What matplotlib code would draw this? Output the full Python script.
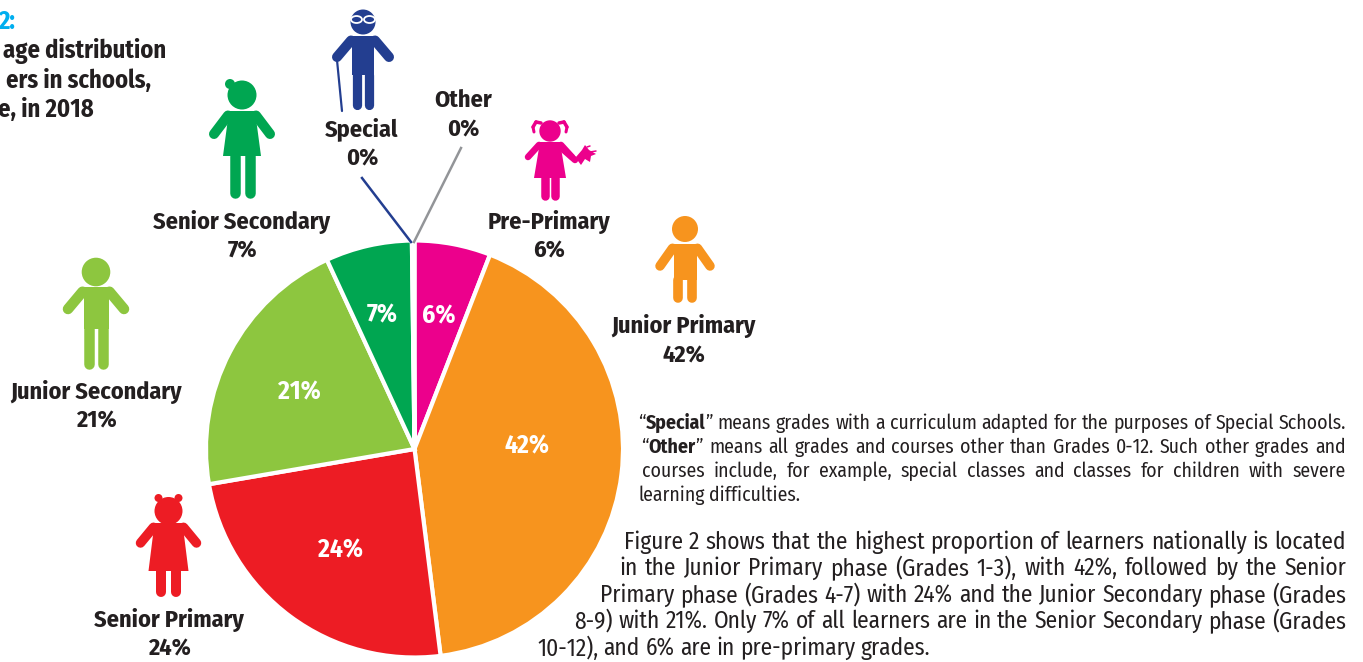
import logging
import matplotlib
matplotlib.use("Agg")
import matplotlib.pyplot as plt
from matplotlib.patches import Circle, Ellipse, Polygon

logging.getLogger("matplotlib.font_manager").setLevel(logging.ERROR)

# Wedge sizes (printed labels are rounded)
categories = ["Pre-Primary", "Junior Primary", "Senior Primary", "Junior Secondary", "Senior Secondary", "Special", "Other"]
shares = [5.9, 42.1, 24.3, 20.8, 6.7, 0.1, 0.1]
printed = ["6%", "42%", "24%", "21%", "7%", "0%", "0%"]
colors = ["#EC008C", "#F7941E", "#ED1C24", "#8DC63F", "#00A651", "#233E90", "#939598"]

label_xy = [(549, 219), (684, 324), (169, 617), (96, 389), (242, 219), (362, 127), (463, 98)]
inner_xy = [(439, 314), (527, 444), (341, 548), (299, 390), (382, 313)]

title_lines = ["2:", "age distribution", "ers in schools,", "e, in 2018"]
title_right = [15, 166, 151, 94]
title_y = [19, 48, 78, 107]

note_lines = [
    "“*Special*” means grades with a curriculum adapted for the purposes of Special Schools.",
    "“*Other*” means all grades and courses other than Grades 0-12. Such other grades and",
    "courses include, for example, special classes and classes for children with severe",
    "learning difficulties.",
]
note_left = [638, 641, 642, 638]
note_y = [421, 445, 469, 493]

body_lines = [
    "Figure 2 shows that the highest proportion of learners nationally is located",
    "in the Junior Primary phase (Grades 1-3), with 42%, followed by the Senior",
    "Primary phase (Grades 4-7) with 24% and the Junior Secondary phase (Grades",
    "8-9) with 21%. Only 7% of all learners are in the Senior Secondary phase (Grades",
    "10-12), and 6% are in pre-primary grades.",
]
body_left = [624, 619, 600, 574, 537]
body_y = [540, 566, 593, 619, 646]

W, H = 1363, 662
DARK = "#231F20"
plt.rcParams["font.family"] = ["Fira Sans Condensed", "Liberation Sans"]

fig = plt.figure(figsize=(W / 100, H / 100), dpi=100)
ax = fig.add_axes([0, 0, 1, 1])
renderer = fig.canvas.get_renderer()


def Y(y):
    return H - y


def text_width(s, weight, size):
    t = ax.text(0, 0, s, fontsize=size, fontweight=weight)
    w = t.get_window_extent(renderer).width
    t.remove()
    return w


def fit_size(s, weight, target):
    # pick the size that makes s as wide as it is in the picture
    return 20 * target / text_width(s, weight, 20)


def limb(x0, y0, x1, y1, width, color):
    ax.plot([x0, x1], [Y(y0), Y(y1)], color=color, lw=width * 0.72, solid_capstyle="round", zorder=3)


def head(x, y, r, color):
    ax.add_patch(Circle((x, Y(y)), r, color=color, lw=0, zorder=3))


def poly(points, color):
    ax.add_patch(Polygon([(x, Y(y)) for x, y in points], closed=True, color=color, lw=0, zorder=3))


def boy(cx, head_y, r, sh_y, half, hand_dx, hand_y, crotch, foot, arm, color):
    head(cx, head_y, r, color)
    poly([(cx - half, sh_y), (cx + half, sh_y), (cx + half, crotch), (cx - half, crotch)], color)
    for s in (-1, 1):
        limb(cx + s * (half + 1), sh_y + arm * 0.45, cx + s * hand_dx, hand_y, arm, color)
        leg_x = cx + s * half * 0.58
        limb(leg_x, crotch, leg_x, foot - half * 0.42, half * 0.84, color)


def girl(cx, head_y, r, sh_y, half, hem_half, hem_y, hand_dx, hand_y, foot, leg_dx, leg_w, arm, color):
    head(cx, head_y, r, color)
    poly([(cx - half, sh_y), (cx + half, sh_y), (cx + hem_half, hem_y), (cx - hem_half, hem_y)], color)
    for s in (-1, 1):
        limb(cx + s * (half + 1), sh_y + arm * 0.45, cx + s * hand_dx, hand_y, arm, color)
        limb(cx + s * leg_dx, hem_y, cx + s * leg_dx, foot - leg_w / 2, leg_w, color)


# Pie
wedges, _ = ax.pie(shares, colors=colors, startangle=90, counterclock=False, center=(414.5, Y(449)), radius=208.5,
                   wedgeprops={"edgecolor": "white", "linewidth": 3.0})
ax.set_xlim(0, W)
ax.set_ylim(0, H)
ax.set_aspect("equal")
ax.axis("off")

label_size = fit_size("Junior Secondary", "bold", 172)
for (x, y), p in zip(inner_xy, printed):
    ax.text(x, Y(y), p, color="white", fontsize=label_size * 1.05, fontweight="bold", ha="center", va="center_baseline", zorder=4)

for (x, y), name, p in zip(label_xy, categories, printed):
    ax.text(x, Y(y), name, color=DARK, fontsize=label_size, fontweight="bold", ha="center", va="center_baseline")
    ax.text(x, Y(y + 29), p, color=DARK, fontsize=label_size, fontweight="bold", ha="center", va="center_baseline")

# Leader lines for the two empty slices
ax.plot([362, 411], [Y(178), Y(242)], color=colors[5], lw=1.8, zorder=3)
ax.plot([461, 414], [Y(148), Y(242)], color=colors[6], lw=1.8, zorder=3)

# Title, cut off by the left edge in the source
title_size = fit_size("age distribution", "bold", 164)
for i, (line, x, y) in enumerate(zip(title_lines, title_right, title_y)):
    ax.text(x, Y(y), line, color="#00AEEF" if i == 0 else DARK, fontsize=title_size, fontweight="bold", ha="right", va="center_baseline")

# People
boy(96, 272, 14.3, 287, 12.5, 28, 309, 329, 369, 10.5, colors[3])
boy(685, 229, 13, 244, 11.5, 25, 266, 280, 303, 9.5, colors[1])
boy(363, 22, 12.5, 36, 11, 26, 57, 75, 110, 10, colors[5])
limb(337, 60, 342, 111, 2.2, colors[5])
for s in (-1, 1):
    ax.add_patch(Ellipse((363 + s * 6.5, Y(19.5)), 11, 7, fc="none", ec="white", lw=1.3, zorder=4))

girl(242, 95, 14.5, 111, 13, 19, 156, 28, 134, 198, 7.5, 10.5, 10, colors[4])
head(230, 84, 5, colors[4])

girl(168.5, 511, 14, 523, 14, 20, 571, 28, 543, 597, 7.5, 10, 9.5, colors[2])
head(158.5, 498, 4, colors[2])
head(178.5, 498, 4, colors[2])

girl(550, 131, 10.7, 142, 10, 16, 178, 22, 157, 200, 4.8, 8.5, 6.5, colors[0])
limb(559, 146, 575, 160, 6.5, colors[0])
for s in (-1, 1):
    limb(550 + s * 9, 123, 550 + s * 14, 122, 3.5, colors[0])
    limb(550 + s * 14, 122, 550 + s * 17, 127, 3.5, colors[0])
    limb(550 + s * 17, 127, 550 + s * 16, 132, 3, colors[0])
# Doll held by the pre-primary figure
poly([(576, 157), (582, 150), (585, 145), (589, 150), (596, 154), (591, 156), (590, 162), (585, 159), (581, 165), (578, 161)], colors[0])
limb(587, 147, 590, 146, 1.5, colors[0])
limb(590, 152, 596, 151, 1.5, colors[0])


def segments(word):
    # a word may have *bold* parts
    return [(part, "bold" if i % 2 else "normal") for i, part in enumerate(word.split("*")) if part]


def justified(line, left, right, y, size):
    words = line.split(" ")
    widths = [sum(text_width(p, w, size) for p, w in segments(word)) for word in words]
    if right is None:
        gap = text_width("a a", "normal", size) - text_width("aa", "normal", size)
    else:
        gap = (right - left - sum(widths)) / (len(words) - 1)
    x = left
    for word, word_w in zip(words, widths):
        px = x
        for part, weight in segments(word):
            ax.text(px, Y(y), part, color=DARK, fontsize=size, fontweight=weight, ha="left", va="center_baseline")
            px += text_width(part, weight, size)
        x += word_w + gap


note_size = fit_size(note_lines[0].replace("*", ""), "normal", 702)
body_size = fit_size(body_lines[3], "normal", 768)
for i, (line, left, y) in enumerate(zip(note_lines, note_left, note_y)):
    justified(line, left, None if i == len(note_lines) - 1 else 1346, y, note_size)
for i, (line, left, y) in enumerate(zip(body_lines, body_left, body_y)):
    justified(line, left, None if i == len(body_lines) - 1 else 1346, y, body_size)

fig.savefig("out.png", dpi=100)
